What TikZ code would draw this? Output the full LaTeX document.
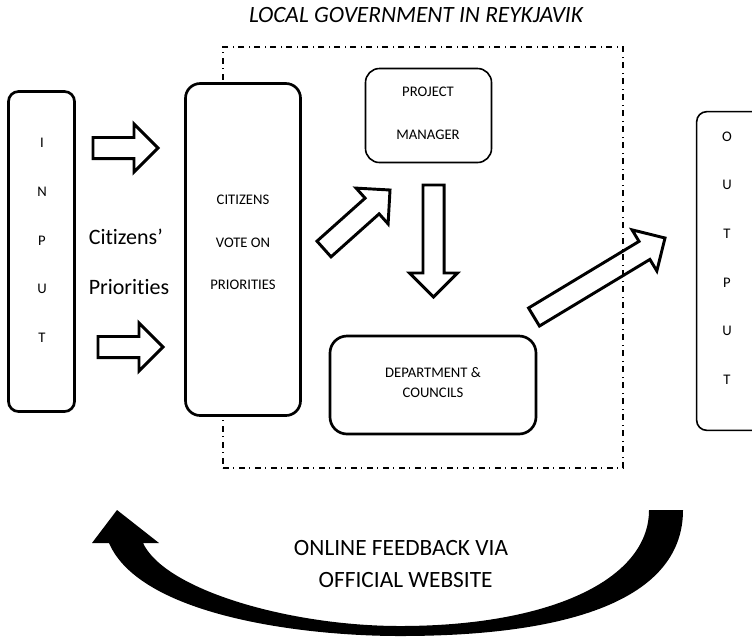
\documentclass[tikz,border=0pt]{standalone}
\usepackage{fontspec}
\setmainfont{Carlito}[Ligatures={TeX,NoCommon}]
\usetikzlibrary{calc}

% hollow block arrow from tail (#1) to tip (#2)
\def\shaftw{7.9pt}
\def\headw{18pt}
\def\headl{18pt}
\newcommand{\blockarrow}[2]{%
  \coordinate (hb) at ($(#2)!\headl!(#1)$);
  \draw[barrow] ($(#1)!\shaftw!90:(#2)$) -- ($(hb)!\shaftw!90:(#2)$)
    -- ($(hb)!\headw!90:(#2)$) -- (#2) -- ($(hb)!\headw!-90:(#2)$)
    -- ($(hb)!\shaftw!-90:(#2)$) -- ($(#1)!\shaftw!-90:(#2)$) -- cycle;}

\tikzset{
  thickbox/.style={draw, line width=2pt, fill=white, inner sep=0pt},
  thinbox/.style={draw, line width=1.2pt, fill=white, inner sep=0pt},
  boxtext/.style={align=center, font=\fontsize{11}{32}\selectfont},
  letters/.style={align=center, font=\fontsize{11}{36.5}\selectfont},
  bigtext/.style={font=\fontsize{17.5}{24}\selectfont},
  barrow/.style={line width=2.2pt, line join=miter},
  govframe/.style={draw, line width=1.1pt, dash pattern=on 4.5pt off 3pt on 1.1pt off 3.4pt}
}

\begin{document}
\begin{tikzpicture}[x=0.75pt, y=-0.75pt]

    % picture frame
    \useasboundingbox (0,0) rectangle (752,637);
    \clip (0,0) rectangle (752,637);

    % local government
    \node[bigtext, font=\fontsize{17.5}{20}\selectfont\itshape] (title) at (416,15) {LOCAL GOVERNMENT IN REYKJAVIK};
    \node[govframe, minimum width=300pt, minimum height=315.75pt] (gov) at (423,257.5) {};

    % input
    \node[thickbox, minimum width=49.5pt, minimum height=240pt, rounded corners=7.5pt] (input) at (41.5,251.5) {};
    \node[letters] (input-txt) at (42,240.5) {I\\N\\P\\U\\T};
    \node[bigtext, align=left, font=\fontsize{16.5}{37.5}\selectfont] (prio) at (129,262) {Citizens'\\Priorities};

    % boxes
    \node[thickbox, minimum width=86.25pt, minimum height=249pt, rounded corners=11pt] (vote) at (243,249.5) {};
    \node[boxtext] (vote-txt) at (243,242.5) {CITIZENS\\VOTE ON\\PRIORITIES};

    \node[thinbox, minimum width=94.5pt, minimum height=70.5pt, rounded corners=10.5pt] (pm) at (428.5,115.5) {};
    \node[boxtext] (pm-txt) at (428,113.5) {PROJECT\\MANAGER};

    \node[thickbox, minimum width=154.5pt, minimum height=73.5pt, rounded corners=12.75pt] (dept) at (433,385) {};
    \node[boxtext, font=\fontsize{11}{15}\selectfont] (dept-txt) at (433,383) {DEPARTMENT \&\\COUNCILS};

    % output
    \node[thinbox, minimum width=77pt, minimum height=239pt, rounded corners=7.5pt] (output) at (748,271) {};
    \node[letters] (output-txt) at (727,258) {O\\U\\T\\P\\U\\T};

    % block arrows
    \coordinate (ina-s) at (93,148);
    \coordinate (ina-e) at (158,148);
    \coordinate (inb-s) at (98,347);
    \coordinate (inb-e) at (163,347);
    \coordinate (vp-s) at (324,249);
    \coordinate (vp-e) at (390,190);
    \coordinate (pd-s) at (433.5,185);
    \coordinate (pd-e) at (433.5,297);
    \coordinate (do-s) at (534,317);
    \coordinate (do-e) at (665,238);

    \blockarrow{ina-s}{ina-e}
    \blockarrow{inb-s}{inb-e}
    \blockarrow{vp-s}{vp-e}
    \blockarrow{pd-s}{pd-e}
    \blockarrow{do-s}{do-e}

    % feedback
    \fill (683,510) .. controls (683,595) and (580,636) .. (400,636)
        .. controls (300,636) and (140,615) .. (109,543)
        -- (92,543) -- (117,510) -- (159,543) -- (143,543)
        .. controls (165,590) and (290,626) .. (400,626)
        .. controls (549,626) and (649,580) .. (649,510) -- cycle;
    \node[bigtext, align=center] (fb) at (401,564) {ONLINE FEEDBACK VIA\\\hspace*{7pt}OFFICIAL WEBSITE};

\end{tikzpicture}
\end{document}
